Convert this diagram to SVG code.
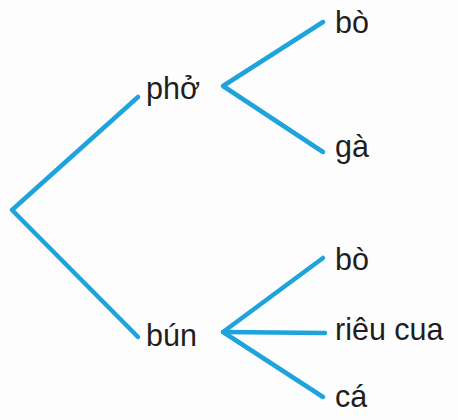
<svg xmlns="http://www.w3.org/2000/svg" width="458" height="420" viewBox="0 0 458 420">
<style>
.c{fill:none;stroke:#1ea3dd;stroke-width:4.5;stroke-linecap:round;stroke-linejoin:round}
text{font-family:"Liberation Sans",Arial,sans-serif;font-size:30.5px;fill:#1e1e1e}
</style>
<rect width="458" height="420" fill="#fdfdfd"/>
<g id="connectors">
<polyline class="c" points="138,97 12,210 138,337"/>
<polyline class="c" points="323,22 223,86 323,152"/>
<polyline class="c" points="323,258 223,332 323,397"/>
<line class="c" x1="223" y1="332" x2="325" y2="333"/>
</g>
<g id="pho"><text x="146" y="99">phở</text></g>
<g id="bun"><text x="146" y="346">bún</text></g>
<g id="pho-bo"><text x="335" y="33">bò</text></g>
<g id="pho-ga"><text x="335" y="157">gà</text></g>
<g id="bun-bo"><text x="335" y="270">bò</text></g>
<g id="bun-rieucua"><text x="335" y="340">riêu cua</text></g>
<g id="bun-ca"><text x="335" y="407">cá</text></g>
</svg>
